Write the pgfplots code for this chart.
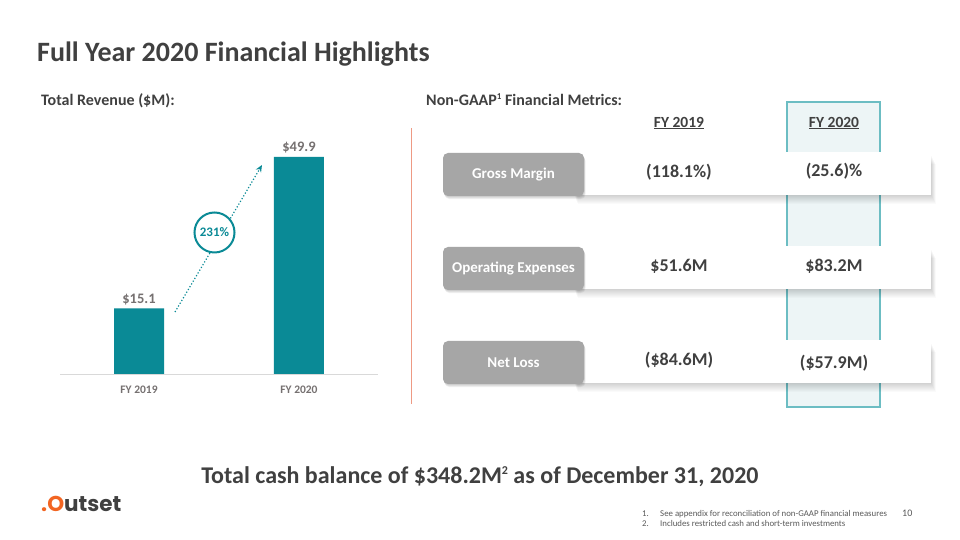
\documentclass[border=0pt]{standalone}
\usepackage{fontspec}
\setmainfont{Carlito}
\newfontfamily\logofont{Poppins}
\usepackage{pgfplots}
\pgfplotsset{compat=1.18}
\usetikzlibrary{arrows.meta}
\definecolor{teal1}{HTML}{0A8A96}
\definecolor{dark}{HTML}{404040}
\definecolor{lab}{HTML}{767171}
\definecolor{pill}{HTML}{A6A6A6}
\definecolor{hl}{HTML}{EDF5F6}
\definecolor{hlb}{HTML}{6CBDC3}
\definecolor{sal}{HTML}{EE9A84}
\definecolor{orng}{HTML}{F26522}
\definecolor{foot}{HTML}{595959}
\begin{document}
\begin{tikzpicture}[x=1pt,y=1pt]
\fill[white] (0,0) rectangle (960,540);
\useasboundingbox (0,0) rectangle (960,540);
% titles
\node[anchor=base west,inner sep=0,text=dark,font=\fontsize{28}{32}\selectfont\bfseries] at (37,478.5) {Full Year 2020 Financial Highlights};
\node[anchor=base west,inner sep=0,text=dark,font=\fontsize{16}{18}\selectfont\bfseries] at (41,434) {Total Revenue (\$M):};
\node[anchor=base west,inner sep=0,text=dark,font=\fontsize{16}{18}\selectfont\bfseries] at (426,434) {Non-GAAP\raisebox{6pt}{\fontsize{9}{10}\selectfont 1} Financial Metrics:};
% revenue chart
\begin{axis}[at={(60pt,166pt)},anchor=south west,scale only axis,width=318pt,height=239.2pt,
 xmin=-0.494,xmax=1.494,ymin=0,ymax=55,
 axis x line*=bottom, axis y line=none,
 axis line style={draw=black!15,line width=0.75pt},
 xtick={0,1}, xticklabels={FY 2019,FY 2020}, major tick length=0pt,
 xticklabel style={text=lab,font=\fontsize{11.5}{13}\selectfont\bfseries,anchor=center,yshift=-15.5pt},
 ybar, bar width=50pt, clip=false,
 /pgf/number format/assume math mode=true,
 nodes near coords={\$\pgfmathprintnumber[fixed,fixed zerofill,precision=1]{\pgfplotspointmeta}},
 nodes near coords style={text=lab,font=\fontsize{14.5}{16}\selectfont\bfseries},
]
\addplot[fill=teal1,draw=none] coordinates {(0,15.1) (1,49.9)};
\end{axis}
% growth arrow and circle
\draw[teal1,line width=1.2pt,dotted,-{Stealth[length=7pt,width=6pt]}] (175,228) -- (262,375);
\draw[teal1,line width=2pt,fill=white] (214.5,307.5) circle (20);
\node[text=teal1,font=\fontsize{13}{15}\selectfont\bfseries] at (214.5,307.5) {231\%};
% separator
\draw[sal,line width=0.9pt] (411,136) -- (411,412);
% highlight column
\draw[hlb,fill=hl,line width=1.2pt] (787,133) rectangle (880,438);
% headers
\node[text=dark,font=\fontsize{15.5}{17}\selectfont\bfseries] at (679,417) {\underline{FY 2019}};
\node[text=dark,font=\fontsize{15.5}{17}\selectfont\bfseries] at (834,417) {\underline{FY 2020}};
% bands with soft shadow
\foreach \y in {345,251,157}{
  \foreach \k in {1,...,9}{
    \fill[black,opacity=0.018] (574+0.4*\k,\y-\k) rectangle (931+0.5*\k,\y+40-\k);
  }
  \fill[white] (579,\y) rectangle (931,\y+43);
}
% pills
\foreach \y/\t in {344/Gross Margin,250/Operating Expenses,156/Net Loss}{
  \foreach \k in {1,...,4}{
    \fill[black,opacity=0.05,rounded corners=5pt] (443+0.4*\k,\y-0.8*\k) rectangle (584+0.4*\k,\y+43-0.8*\k);
  }
  \fill[pill,rounded corners=5pt] (443,\y) rectangle (584,\y+43);
  \node[text=white,font=\fontsize{15}{17}\selectfont\bfseries] at (513.5,\y+21.5) {\t};
}
% values
\tikzset{val/.style={text=dark,font=\fontsize{18}{20}\selectfont\bfseries}}
\node[val] at (679,368) {(118.1\%)};
\node[val] at (834,369) {(25.6)\%};
\node[val] at (679,274) {\$51.6M};
\node[val] at (834,274) {\$83.2M};
\node[val] at (679,180) {(\$84.6M)};
\node[val] at (834,177) {(\$57.9M)};
% bottom line
\node[anchor=base,inner sep=0,text=dark,font=\fontsize{24}{28}\selectfont\bfseries] at (480,56) {Total cash balance of \$348.2M\raisebox{9pt}{\fontsize{12}{13}\selectfont 2} as of December 31, 2020};
% logo
\node[anchor=base west,inner sep=0,font=\fontsize{21.5}{24}\logofont\bfseries\selectfont] at (41,28) {\textcolor{orng}{.O}\textcolor{dark}{utset}};
% footnotes
\tikzset{fn/.style={anchor=base west,inner sep=0,text=foot,font=\fontsize{8.8}{10}\selectfont}}
\node[fn] at (642,23) {1.};
\node[fn] at (660,23) {See appendix for reconciliation of non-GAAP financial measures};
\node[fn] at (642,13) {2.};
\node[fn] at (660,13) {Includes restricted cash and short-term investments};
\node[fn,font=\fontsize{10}{11}\selectfont] at (902,23) {10};
\end{tikzpicture}
\end{document}
